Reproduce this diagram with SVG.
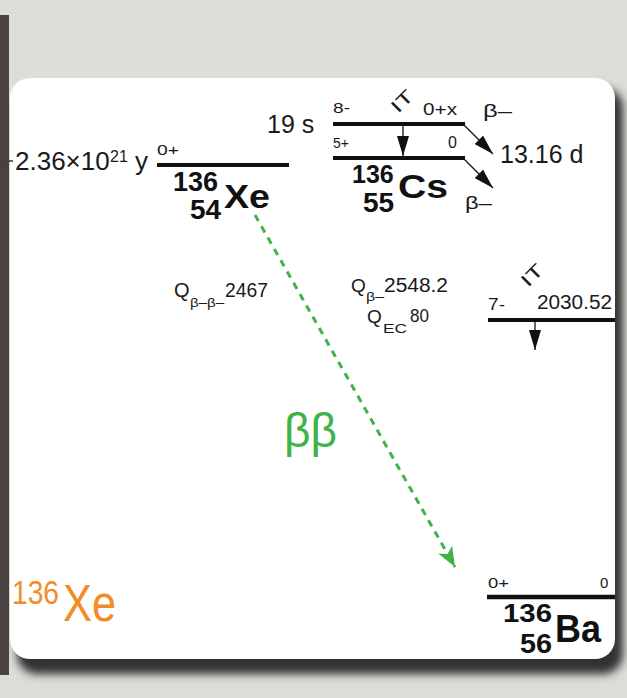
<svg xmlns="http://www.w3.org/2000/svg" width="627" height="698" viewBox="0 0 627 698">
<defs>
<style>
.t{font-family:"Liberation Sans",Arial,sans-serif;fill:#1a1a1a}
.b{font-weight:bold;fill:#111}
.lvl{stroke:#111;stroke-width:4}
.ar{stroke:#111;stroke-width:1.3;fill:none}
.o{font-family:"Liberation Sans",Arial,sans-serif;fill:#f28c28}
.g{font-family:"Liberation Sans",Arial,sans-serif;fill:#40b348}
</style>
<marker id="ah" markerWidth="20" markerHeight="12" refX="20" refY="6" orient="auto" markerUnits="userSpaceOnUse"><path d="M0,0 L20,6 L0,12 z" fill="#111"/></marker>
<marker id="gh" markerWidth="20" markerHeight="16" refX="20" refY="8" orient="auto" markerUnits="userSpaceOnUse"><path d="M0,0 L20,8 L0,16 L5,8 z" fill="#40b348"/></marker>
<filter id="sh" x="-5%" y="-5%" width="115%" height="115%"><feGaussianBlur stdDeviation="4"/></filter>
</defs>
<rect width="627" height="698" fill="#dcddd7"/>
<rect x="0" y="15" width="9" height="660" fill="#4a4240"/>
<rect x="17" y="88" width="606" height="586" rx="20" fill="#333" filter="url(#sh)"/>
<rect x="10" y="78" width="605" height="581" rx="20" fill="#fff"/>

<g id="xe136">
<text class="t" x="15" y="170" font-size="26">2.36×10</text>
<text class="t" x="110" y="162" font-size="16">21</text>
<text class="t" x="135" y="170" font-size="26">y</text>
<line class="lvl" x1="157" y1="165" x2="289" y2="165"/>
<text class="t" x="157" y="155" font-size="15" textLength="22" lengthAdjust="spacingAndGlyphs">0+</text>
<text class="t b" x="173" y="191" font-size="27">136</text>
<text class="t b" x="190" y="219" font-size="28">54</text>
<text class="t b" x="224" y="208" font-size="34" textLength="46" lengthAdjust="spacingAndGlyphs">Xe</text>
<text class="t" x="174" y="297" font-size="20">Q</text>
<text class="t" x="190" y="307" font-size="13" textLength="34" lengthAdjust="spacingAndGlyphs">β–β–</text>
<text class="t" x="225" y="297" font-size="20" textLength="43" lengthAdjust="spacingAndGlyphs">2467</text>
</g>

<g id="cs136">
<text class="t" x="267" y="133" font-size="25">19 s</text>
<line class="lvl" x1="333" y1="124" x2="465" y2="124"/>
<line class="lvl" x1="333" y1="158" x2="465" y2="158"/>
<text class="t" x="333" y="113" font-size="15" textLength="17" lengthAdjust="spacingAndGlyphs">8-</text>
<text class="t" x="423" y="115" font-size="16" textLength="34" lengthAdjust="spacingAndGlyphs">0+x</text>
<text class="t" x="333" y="148" font-size="15" textLength="16" lengthAdjust="spacingAndGlyphs">5+</text>
<text class="t" x="448" y="148" font-size="16">0</text>
<text class="t" x="0" y="0" font-size="18" textLength="24" lengthAdjust="spacingAndGlyphs" transform="translate(398,114) rotate(-45)">IT</text>
<text class="t" x="483" y="117" font-size="18" textLength="29" lengthAdjust="spacingAndGlyphs">β–</text>
<text class="t" x="500" y="163" font-size="25">13.16 d</text>
<text class="t" x="465" y="209" font-size="18" textLength="27" lengthAdjust="spacingAndGlyphs">β–</text>
<text class="t b" x="352" y="183" font-size="25">136</text>
<text class="t b" x="363" y="212" font-size="28">55</text>
<text class="t b" x="398" y="198" font-size="34" textLength="50" lengthAdjust="spacingAndGlyphs">Cs</text>
<text class="t" x="351" y="292" font-size="19">Q</text>
<text class="t" x="366" y="301" font-size="13" textLength="18" lengthAdjust="spacingAndGlyphs">β–</text>
<text class="t" x="384" y="292" font-size="20" textLength="64" lengthAdjust="spacingAndGlyphs">2548.2</text>
<text class="t" x="367" y="323" font-size="19">Q</text>
<text class="t" x="383" y="333" font-size="13" textLength="24" lengthAdjust="spacingAndGlyphs">EC</text>
<text class="t" x="410" y="322" font-size="19" textLength="19" lengthAdjust="spacingAndGlyphs">80</text>
</g>

<g id="ba136m">
<line class="lvl" x1="488" y1="320" x2="615" y2="320"/>
<text class="t" x="488" y="310" font-size="16" textLength="17" lengthAdjust="spacingAndGlyphs">7-</text>
<text class="t" x="537" y="309" font-size="20" textLength="75" lengthAdjust="spacingAndGlyphs">2030.52</text>
<text class="t" x="0" y="0" font-size="18" textLength="24" lengthAdjust="spacingAndGlyphs" transform="translate(528,288) rotate(-45)">IT</text>
</g>

<g id="ba136">
<line x1="487" y1="597" x2="615" y2="597" stroke="#111" stroke-width="4.5"/>
<text class="t" x="488" y="588" font-size="15" textLength="21" lengthAdjust="spacingAndGlyphs">0+</text>
<text class="t" x="600" y="588" font-size="15">0</text>
<text class="t b" x="503" y="622" font-size="26" textLength="49" lengthAdjust="spacingAndGlyphs">136</text>
<text class="t b" x="520" y="653" font-size="28" textLength="32" lengthAdjust="spacingAndGlyphs">56</text>
<text class="t b" x="555" y="642" font-size="38" textLength="46" lengthAdjust="spacingAndGlyphs">Ba</text>
</g>

<g id="label">
<text class="o" x="12" y="604" font-size="34" textLength="47" lengthAdjust="spacingAndGlyphs">136</text>
<text class="o" x="63" y="621" font-size="52" textLength="53" lengthAdjust="spacingAndGlyphs">Xe</text>
<text class="g" x="284" y="447" font-size="48" textLength="53" lengthAdjust="spacingAndGlyphs">ββ</text>
</g>

<g id="connectors">
<line x1="7" y1="161" x2="13" y2="161" stroke="#333" stroke-width="1.5"/>
<line class="ar" x1="403" y1="126" x2="403" y2="156" marker-end="url(#ah)"/>
<line class="ar" x1="463" y1="124" x2="493" y2="154" marker-end="url(#ah)"/>
<line class="ar" x1="463" y1="158" x2="493" y2="188" marker-end="url(#ah)"/>
<line class="ar" x1="535" y1="322" x2="535" y2="350" marker-end="url(#ah)"/>
<line x1="255" y1="215" x2="455" y2="567" stroke="#40b348" stroke-width="3" stroke-dasharray="7,6" marker-end="url(#gh)"/>
</g>
</svg>
